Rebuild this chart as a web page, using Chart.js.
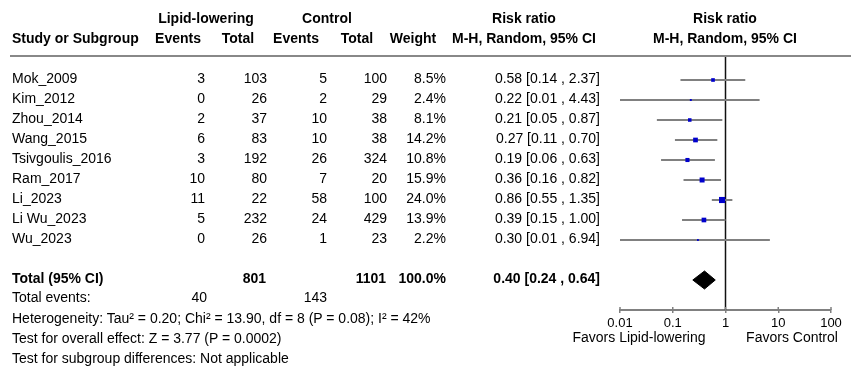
<!DOCTYPE html>
<html><head><meta charset="utf-8">
<script src="https://cdn.jsdelivr.net/npm/chart.js@4.4.0/dist/chart.umd.min.js"></script>
<style>
html,body{margin:0;padding:0;background:#fff;}
#wrap{position:relative;width:860px;height:380px;overflow:hidden;font-family:"Liberation Sans",Arial,sans-serif;font-size:14px;color:#000;}
#c{position:absolute;left:0;top:0;}
.t{position:absolute;white-space:nowrap;line-height:20px;height:20px;}
.b{font-weight:bold;}
#hline{position:absolute;left:10px;top:55px;width:841px;height:2px;background:#888;}
</style></head><body>
<div id="wrap"><canvas id="c" width="860" height="380"></canvas><div id="hline"></div></div>
<script>
// ---- data ----
const studies = ['Mok_2009','Kim_2012','Zhou_2014','Wang_2015','Tsivgoulis_2016','Ram_2017','Li_2023','Li Wu_2023','Wu_2023'];
const llEvents = [3,0,2,6,3,10,11,5,0];
const llTotal = [103,26,37,83,192,80,22,232,26];
const ctrlEvents = [5,2,10,10,26,7,58,24,1];
const ctrlTotal = [100,29,38,38,324,20,100,429,23];
const weights = [8.5,2.4,8.1,14.2,10.8,15.9,24.0,13.9,2.2];
const rr = [0.58,0.22,0.21,0.27,0.19,0.36,0.86,0.39,0.30];
const ciLow = [0.14,0.01,0.05,0.11,0.06,0.16,0.55,0.15,0.01];
const ciHigh = [2.37,4.43,0.87,0.70,0.63,0.82,1.35,1.00,6.94];
const totalLL = 801, totalCtrl = 1101, totalWeight = '100.0%';
const totalEventsLL = 40, totalEventsCtrl = 143;
const totalRR = 0.40, totalLow = 0.24, totalHigh = 0.64;
const tickVals = [0.01,0.1,1,10,100];
const tickLabels = ['0.01','0.1','1','10','100'];
const footnotes = [
  'Heterogeneity: Tau\u00b2 = 0.20; Chi\u00b2 = 13.90, df = 8 (P = 0.08); I\u00b2 = 42%',
  'Test for overall effect: Z = 3.77 (P = 0.0002)',
  'Test for subgroup differences: Not applicable'
];

// ---- text table ----
const wrap = document.getElementById('wrap');
function txt(s, x, cc, align, bold, size){
  const d = document.createElement('div');
  d.className = 't' + (bold ? ' b' : '');
  d.textContent = s;
  if (size) d.style.fontSize = size + 'px';
  d.style.top = (cc - 10) + 'px';
  if (align === 'r') d.style.right = (860 - x) + 'px';
  else if (align === 'c') { d.style.left = x + 'px'; d.style.transform = 'translateX(-50%)'; }
  else d.style.left = x + 'px';
  wrap.appendChild(d);
}
const f2 = v => v.toFixed(2);
// headers
txt('Lipid-lowering', 206, 18, 'c', true);
txt('Control', 327, 18, 'c', true);
txt('Risk ratio', 524, 18, 'c', true);
txt('Risk ratio', 725, 18, 'c', true);
txt('Study or Subgroup', 12, 38, 'l', true);
txt('Events', 178, 38, 'c', true);
txt('Total', 238, 38, 'c', true);
txt('Events', 296, 38, 'c', true);
txt('Total', 357, 38, 'c', true);
txt('Weight', 413, 38, 'c', true);
txt('M-H, Random, 95% CI', 524, 38, 'c', true);
txt('M-H, Random, 95% CI', 725, 38, 'c', true);
// rows
studies.forEach((s,i)=>{
  const cc = 78 + 20*i;
  txt(s, 12, cc, 'l');
  txt(String(llEvents[i]), 205, cc, 'r');
  txt(String(llTotal[i]), 267, cc, 'r');
  txt(String(ctrlEvents[i]), 327, cc, 'r');
  txt(String(ctrlTotal[i]), 387, cc, 'r');
  txt(weights[i].toFixed(1) + '%', 446, cc, 'r');
  txt(f2(rr[i]) + ' [' + f2(ciLow[i]) + ' , ' + f2(ciHigh[i]) + ']', 600, cc, 'r');
});
txt('Total (95% CI)', 12, 278, 'l', true);
txt(String(totalLL), 266, 278, 'r', true);
txt(String(totalCtrl), 386, 278, 'r', true);
txt(totalWeight, 446, 278, 'r', true);
txt(f2(totalRR) + ' [' + f2(totalLow) + ' , ' + f2(totalHigh) + ']', 600, 278, 'r', true);
txt('Total events:', 12, 297, 'l');
txt(String(totalEventsLL), 207, 297, 'r');
txt(String(totalEventsCtrl), 327, 297, 'r');
footnotes.forEach((s,i)=> txt(s, 12, 318 + 20*i, 'l'));
txt('Favors Lipid-lowering', 639, 337, 'c');
txt('Favors Control', 792, 337, 'c');

// ---- chart ----
const TOTAL_ROW = 10;
const datasets = [];
datasets.push({
  data: rr.map((v,i)=>({x:v, y:i})),
  showLine:false, pointStyle:'rect',
  pointRadius: weights.map(w => 1.25*Math.sqrt(w)/1.414),
  backgroundColor:'#0000CC', borderWidth:0, pointBorderWidth:0
});
datasets.push({
  data: [{x:totalLow,y:TOTAL_ROW},{x:totalRR,y:TOTAL_ROW-0.45},{x:totalHigh,y:TOTAL_ROW},{x:totalRR,y:TOTAL_ROW+0.45},{x:totalLow,y:TOTAL_ROW}],
  showLine:true, fill:'shape', backgroundColor:'#000', borderColor:'#000', borderWidth:1, pointRadius:0
});
studies.forEach((s,i)=>datasets.push({
  data:[{x:ciLow[i],y:i},{x:ciHigh[i],y:i}],
  showLine:true, borderColor:'#808080', borderWidth:2, pointRadius:0
}));
datasets.push({
  data:[{x:1,y:-1.15},{x:1,y:11.5}],
  showLine:true, borderColor:'#111', borderWidth:1.5, pointRadius:0
});

const tickUp = {id:'tickUp', afterDraw(ch){
  const s = ch.scales.x, ctx = ch.ctx, y = ch.chartArea.bottom;
  ctx.save(); ctx.strokeStyle = '#808080'; ctx.lineWidth = 1.5;
  tickVals.forEach(v=>{ const px = s.getPixelForValue(v); ctx.beginPath(); ctx.moveTo(px, y-3); ctx.lineTo(px, y); ctx.stroke(); });
  ctx.restore();
}};

new Chart(document.getElementById('c'), {
  type:'scatter',
  data:{datasets},
  options:{
    responsive:false, animation:false, events:[],
    devicePixelRatio:1,
    layout:{padding:{left:620, right:29, top:57, bottom:40}},
    plugins:{legend:{display:false}, tooltip:{enabled:false}},
    scales:{
      x:{type:'logarithmic', min:0.01, max:100, position:'bottom',
        afterBuildTicks: s => { s.ticks = tickVals.map(v=>({value:v})); },
        afterFit: s => { s.height = 30; },
        ticks:{callback:(v,i)=>tickLabels[i], autoSkip:false, maxRotation:0, padding:3,
          color:'#000', font:{family:'"Liberation Sans", Arial, sans-serif', size:13}},
        grid:{drawOnChartArea:false, drawTicks:true, tickLength:3, color:'#808080', lineWidth:1.5},
        border:{display:true, color:'#808080', width:2}
      },
      y:{type:'linear', reverse:true, min:-1.15, max:11.5, display:false}
    }
  },
  plugins:[tickUp]
});
</script>
</body></html>
